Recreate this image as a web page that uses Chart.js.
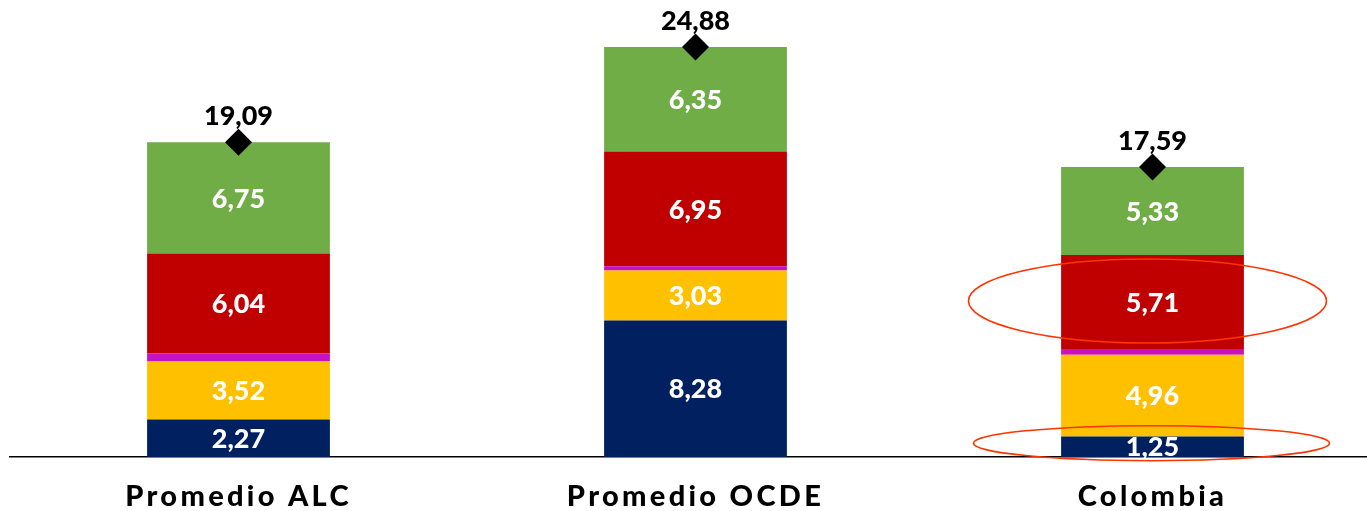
<!DOCTYPE html>
<html><head><meta charset="utf-8">
<script src="https://cdn.jsdelivr.net/npm/chart.js@4"></script>
<style>html,body{margin:0;padding:0;background:#fff;overflow:hidden;width:1367px;height:511px}canvas{display:block}</style>
</head><body><canvas id="c" width="1381" height="511"></canvas>
<script>
const categories = ['Promedio ALC', 'Promedio OCDE', 'Colombia'];
const seriesNavy = [2.27, 8.28, 1.25];
const seriesYellow = [3.52, 3.03, 4.96];
const seriesMagenta = [0.51, 0.27, 0.34];
const seriesRed = [6.04, 6.95, 5.71];
const seriesGreen = [6.75, 6.35, 5.33];
const totals = [19.09, 24.88, 17.59];

const FONT = 'Lato, "Open Sans", sans-serif';
const fmt = v => v.toFixed(2).replace('.', ',');

const barDs = (data, color, label, showLabel) => ({
  type: 'bar', label, data, backgroundColor: color, borderWidth: 0,
  categoryPercentage: 1, barPercentage: 0.4, order: 1, showLabel
});

const spacingPlugin = {
  id: 'spacing',
  beforeDraw(chart) { chart.ctx.letterSpacing = '3.3px'; },
  beforeDatasetsDraw(chart) { chart.ctx.letterSpacing = '0px'; }
};

const labelPlugin = {
  id: 'valueLabels',
  afterDatasetsDraw(chart) {
    const ctx = chart.ctx;
    ctx.save();
    ctx.letterSpacing = '0px';
    ctx.textAlign = 'center';
    ctx.textBaseline = 'middle';
    chart.data.datasets.forEach((ds, i) => {
      const meta = chart.getDatasetMeta(i);
      if (ds.type === 'bar' && ds.showLabel) {
        ctx.fillStyle = '#ffffff';
        ctx.font = '900 27px ' + FONT;
        meta.data.forEach((el, j) => {
          const cy = (el.y + el.base) / 2;
          ctx.fillText(fmt(ds.data[j]), el.x, cy + 1);
        });
      } else if (ds.type === 'line') {
        ctx.fillStyle = '#000000';
        ctx.font = '900 27px ' + FONT;
        meta.data.forEach((el, j) => {
          ctx.fillText(fmt(ds.data[j]), el.x, el.y - 26);
        });
      }
    });
    ctx.restore();
  }
};

const ellipsePlugin = {
  id: 'ellipses',
  afterDraw(chart, args, opts) {
    const ctx = chart.ctx;
    ctx.save();
    ctx.strokeStyle = opts.color;
    ctx.lineWidth = opts.width;
    opts.items.forEach(it => {
      const el = chart.getDatasetMeta(it.dataset).data[it.index];
      const cx = el.x + it.dx;
      const cy = (el.y + el.base) / 2 + it.dy;
      ctx.beginPath();
      ctx.ellipse(cx, cy, it.rx, it.ry, 0, 0, Math.PI * 2);
      ctx.stroke();
    });
    ctx.restore();
  }
};

new Chart(document.getElementById('c'), {
  data: {
    labels: categories,
    datasets: [
      barDs(seriesNavy, '#002060', 'navy', true),
      barDs(seriesYellow, '#FFC000', 'yellow', true),
      barDs(seriesMagenta, '#C812C0', 'magenta', false),
      barDs(seriesRed, '#C00000', 'red', true),
      barDs(seriesGreen, '#70AD47', 'green', true),
      {
        type: 'line', label: 'total', data: totals, showLine: false,
        pointStyle: 'rectRot', pointRadius: 13.5, pointHoverRadius: 13.5,
        pointBackgroundColor: '#000', pointBorderColor: '#000', pointBorderWidth: 0,
        order: 0
      }
    ]
  },
  options: {
    responsive: false,
    animation: false,
    devicePixelRatio: 1,
    layout: { autoPadding: false, padding: { left: 10, right: 0, top: 12, bottom: 0 } },
    plugins: {
      legend: { display: false },
      tooltip: { enabled: false },
      ellipses: {
        color: '#FF3300', width: 1.6,
        items: [
          { dataset: 3, index: 2, dx: -5, dy: -1, rx: 179, ry: 42 },
          { dataset: 0, index: 2, dx: -1, dy: -3.5, rx: 178, ry: 17.5 }
        ]
      }
    },
    scales: {
      x: {
        stacked: true,
        grid: { display: false, drawTicks: false },
        border: { display: true, color: '#000', width: 1.5 },
        ticks: { color: '#000', font: { family: FONT, size: 29, weight: '900' }, padding: 22 },
        afterFit: s => { s.height = 54; }
      },
      y: { stacked: true, display: false, min: 0, max: 27 }
    }
  },
  plugins: [spacingPlugin, labelPlugin, ellipsePlugin]
});
</script></body></html>
